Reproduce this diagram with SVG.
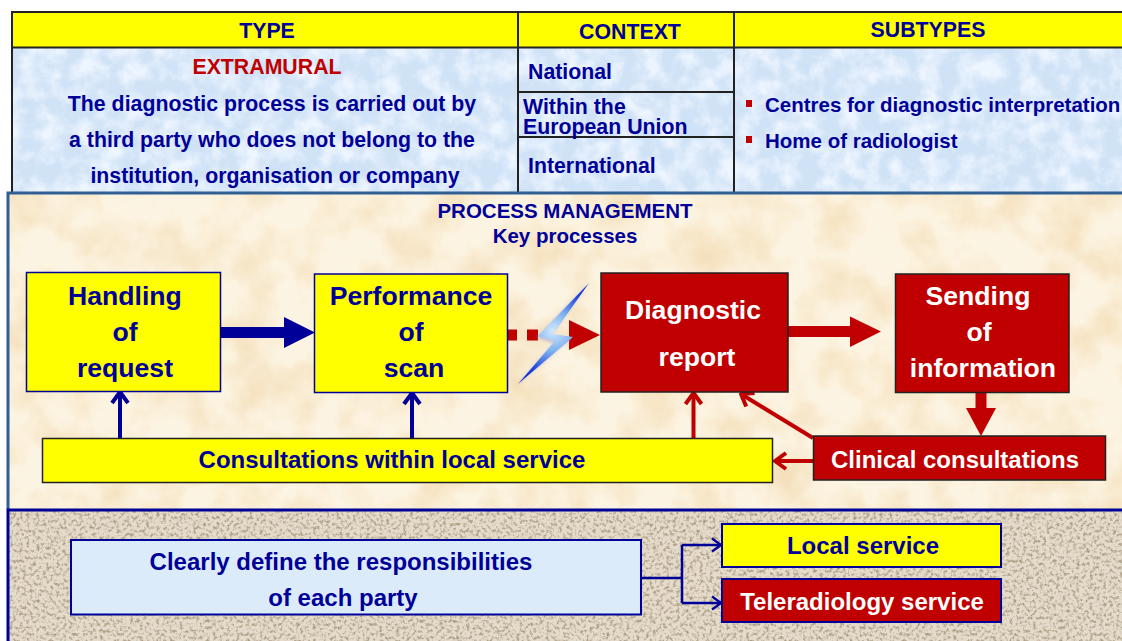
<svg xmlns="http://www.w3.org/2000/svg" width="1122" height="641" viewBox="0 0 1122 641">
<style>
text{font-family:"Liberation Sans",Arial,sans-serif;font-weight:bold;fill:#000099;text-anchor:middle}
.l{text-anchor:start}
.w{fill:#fff}
.r{fill:#c00000}
.y{fill:#ffff00;stroke:#000099;stroke-width:1.5}
.d{fill:#c00000;stroke:#222;stroke-width:1.5}
.h{fill:#ffff00;stroke:#222;stroke-width:2}
.c{fill:none;stroke:#222;stroke-width:2}
.ar{fill:none;stroke:#c00000;stroke-width:4}
.ab{fill:none;stroke:#000099;stroke-width:4}
.an{fill:none;stroke:#000099;stroke-width:2.5}
.t1{font-size:21.3px}
.t2{font-size:20.5px}
.t3{font-size:26.6px}
.t4{font-size:24px}
</style>
<defs>
<filter id="tb" x="0" y="0" width="100%" height="100%" color-interpolation-filters="sRGB"><feTurbulence type="fractalNoise" baseFrequency="0.05" numOctaves="5" seed="3"/><feColorMatrix values="0 0 0 0 0.93 0 0 0 0 0.96 0 0 0 0 1 2.6 0 0 0 -0.95"/></filter>
<filter id="tc" x="0" y="0" width="100%" height="100%" color-interpolation-filters="sRGB"><feTurbulence type="fractalNoise" baseFrequency="0.022" numOctaves="4" seed="7"/><feColorMatrix values="0 0 0 0 0.96 0 0 0 0 0.88 0 0 0 0 0.74 2.2 0 0 0 -0.85"/></filter>
<filter id="tt" x="0" y="0" width="100%" height="100%" color-interpolation-filters="sRGB"><feTurbulence type="fractalNoise" baseFrequency="0.3" numOctaves="3" seed="5"/><feColorMatrix values="0 0 0 0 0.66 0 0 0 0 0.6 0 0 0 0 0.5 3 0 0 0 -1.4"/></filter>
<filter id="bl" x="-30%" y="-30%" width="160%" height="160%"><feGaussianBlur stdDeviation="1.8"/></filter>
<radialGradient id="bolt" gradientUnits="userSpaceOnUse" cx="553" cy="331" r="66"><stop offset="0" stop-color="#d3e8ff"/><stop offset=".3" stop-color="#7fb2f0"/><stop offset=".65" stop-color="#1d3fdc"/><stop offset="1" stop-color="#0a14c0"/></radialGradient>
<marker id="ma" viewBox="0 0 16 20" refX="14" refY="10" markerWidth="16" markerHeight="20" markerUnits="userSpaceOnUse" orient="auto"><path d="M3 2L14 10L3 18" fill="none" stroke="#c00000" stroke-width="4" stroke-linejoin="round"/></marker>
<marker id="mb" viewBox="0 0 16 20" refX="14" refY="10" markerWidth="16" markerHeight="20" markerUnits="userSpaceOnUse" orient="auto"><path d="M3 2L14 10L3 18" fill="none" stroke="#000099" stroke-width="4" stroke-linejoin="round"/></marker>
<marker id="mn" viewBox="0 0 14 16" refX="13" refY="8" markerWidth="14" markerHeight="16" markerUnits="userSpaceOnUse" orient="auto"><path d="M4 1.500L13 8L4 14.500" fill="none" stroke="#000099" stroke-width="2.200"/></marker>
</defs>

<g id="background">
<rect x="13" y="48" width="1109" height="145" fill="#cfe2f6"/>
<rect x="13" y="48" width="1109" height="145" filter="url(#tb)"/>
<rect x="8" y="193" width="1114" height="316" fill="#fcf4e2"/>
<rect x="8" y="193" width="1114" height="316" filter="url(#tc)"/>
<rect x="8" y="510" width="1114" height="131" fill="#e4dbcb"/>
<rect x="8" y="510" width="1114" height="131" filter="url(#tt)"/>
</g>

<g id="table">
<rect class="h" x="12" y="12" width="1111" height="35.500"/>
<path class="c" d="M12 47.500V193M518 12V193M734 12V193M518 92H734M518 137H734"/>
<text x="267" y="38" class="t1">TYPE</text>
<text x="630" y="39" class="t1">CONTEXT</text>
<text x="928" y="37" class="t1">SUBTYPES</text>
<text x="267" y="74" class="t1 r">EXTRAMURAL</text>
<text x="272" y="111" class="t1">The diagnostic process is carried out by</text>
<text x="272" y="147" class="t1">a third party who does not belong to the</text>
<text x="275" y="183" class="t1">institution, organisation or company</text>
<text class="l t1" x="528" y="79">National</text>
<text class="l t1" x="523" y="114">Within the</text>
<text class="l t1" x="523" y="134">European Union</text>
<text class="l t1" x="528" y="173">International</text>
<rect x="746" y="100" width="6" height="7" fill="#c00000"/>
<rect x="746" y="136" width="6" height="7" fill="#c00000"/>
<text class="l t2" x="765" y="112">Centres for diagnostic interpretation</text>
<text class="l t2" x="765" y="148">Home of radiologist</text>
</g>

<g id="process-panel">
<path d="M8 509V193H1122" fill="none" stroke="#2f5f93" stroke-width="3"/>
<text x="565" y="218" class="t2">PROCESS MANAGEMENT</text>
<text x="565" y="243" class="t2">Key processes</text>
</g>

<g id="connectors">
<path d="M221 332.500H286" stroke="#000099" stroke-width="11" fill="none"/>
<path d="M284 317L315 332.500L284 348Z" fill="#000099"/>
<path d="M508 335H517M527 335H538" stroke="#c00000" stroke-width="11" fill="none"/>
<path d="M569 320L600 335L569 350Z" fill="#c00000"/>
<path d="M788 331.500H852" stroke="#c00000" stroke-width="11" fill="none"/>
<path d="M850 316.500L881 331.500L850 347Z" fill="#c00000"/>
<path d="M981 392V410" stroke="#c00000" stroke-width="11" fill="none"/>
<path d="M966 408H996L981 436Z" fill="#c00000"/>
<path class="ab" d="M120 438V392" marker-end="url(#mb)"/>
<path class="ab" d="M412 438V393" marker-end="url(#mb)"/>
<path class="ar" d="M693.500 438V393" marker-end="url(#ma)"/>
<path class="ar" d="M813 438L741 394" marker-end="url(#ma)"/>
<path class="ar" d="M813 461H775" marker-end="url(#ma)"/>
<path class="an" d="M641 578H682M682 545V603"/>
<path class="an" d="M682 545H721" marker-end="url(#mn)"/>
<path class="an" d="M682 603H721" marker-end="url(#mn)"/>
<g id="bolt-mark">
<path d="M589 283L538 336L555 341L518 384L573 337L553 334Z" fill="#8fa0d8" opacity=".5" filter="url(#bl)" transform="translate(-2 2)"/>
<path d="M589 283L538 336L555 341L518 384L573 337L553 334Z" fill="url(#bolt)"/>
</g>
</g>

<g id="handling"><rect class="y" x="26.500" y="272.500" width="194" height="119"/>
<text x="125" y="305" class="t3">Handling</text><text x="125" y="341" class="t3">of</text><text x="125" y="377" class="t3">request</text></g>
<g id="performance"><rect class="y" x="314.500" y="274" width="193" height="118.500"/>
<text x="411" y="305" class="t3">Performance</text><text x="411" y="341" class="t3">of</text><text x="414" y="377" class="t3">scan</text></g>
<g id="diagnostic"><rect class="d" x="601" y="273" width="187" height="119"/>
<text x="693" y="319" class="t3 w">Diagnostic</text><text x="697" y="366" class="t3 w">report</text></g>
<g id="sending"><rect class="d" x="895.500" y="274" width="173.500" height="118.500"/>
<text x="978" y="305" class="t3 w">Sending</text><text x="979" y="341" class="t3 w">of</text><text x="983" y="377" class="t3 w">information</text></g>
<g id="local-consult"><rect class="d" style="fill:#ffff00" x="42.500" y="438.500" width="730" height="44"/>
<text x="392" y="468" class="t4">Consultations within local service</text></g>
<g id="clinical"><rect class="d" x="813.500" y="436" width="292" height="44"/>
<text x="955" y="468" class="t4 w">Clinical consultations</text></g>

<g id="bottom-panel">
<path d="M8 641V510H1122" fill="none" stroke="#000099" stroke-width="3"/>
</g>
<g id="responsibilities"><rect x="71" y="540" width="570" height="74.500" fill="#dcebfa" stroke="#000099" stroke-width="2"/>
<text x="341" y="570" class="t4">Clearly define the responsibilities</text><text x="343" y="606" class="t4">of each party</text></g>
<g id="local-service"><rect class="y" style="stroke-width:2" x="722" y="524" width="279" height="43"/>
<text x="863" y="554" class="t4">Local service</text></g>
<g id="teleradiology"><rect class="d" style="stroke:#000099;stroke-width:2" x="722" y="579" width="279" height="43"/>
<text x="862" y="610" class="t4 w">Teleradiology service</text></g>
</svg>
